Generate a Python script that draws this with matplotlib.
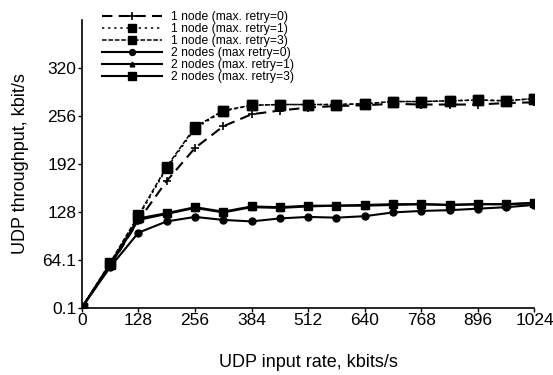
import matplotlib
matplotlib.use("Agg")
import matplotlib.pyplot as plt

plt.rcParams['font.family'] = ['Liberation Sans', 'DejaVu Sans']

# input rate, kbit/s
rate = [0, 64, 128, 192, 256, 320, 384, 448, 512, 576, 640, 704, 768, 832, 896, 960, 1024]

# UDP throughput, kbit/s
one_r0 = [0.1, 55, 116, 169, 213, 242, 258, 263, 267, 269, 270, 272, 271, 271, 271, 273, 274]
one_r1 = [0.1, 58, 121, 186, 239, 262, 270, 271, 271, 271, 272, 275, 275, 276, 277, 276, 279]
one_r3 = [0.1, 60, 123, 188, 241, 263, 270, 271, 271, 271, 272, 275, 275, 276, 277, 276, 279]
two_r0 = [0.1, 54, 100, 115, 121, 117, 115, 119, 121, 120, 122, 127, 129, 130, 132, 134, 137]
two_r1 = [0.1, 56, 117, 125, 133, 127, 134, 133, 135, 136, 136, 137, 138, 137, 138, 138, 139]
two_r3 = [0.1, 58, 119, 126, 134, 128, 135, 134, 136, 136, 137, 138, 138, 137, 138, 138, 140]

xticks = [0, 128, 256, 384, 512, 640, 768, 896, 1024]
yticks = [0.1, 64.1, 128, 192, 256, 320]
ytick_labels = ['0.1', '64.1', '128', '192', '256', '320']


def main():
    fig = plt.figure(figsize=(5.53, 3.75), dpi=100)
    ax = fig.add_axes([0.148, 0.18, 0.8185, 0.767])

    ax.plot(rate, one_r0, color='k', lw=1.5, ls=(0, (5, 3)), marker='+', ms=6, mew=1.2,
            label='1 node (max. retry=0)')
    ax.plot(rate, one_r1, color='k', lw=1.1, ls=(0, (1.5, 2.5)), marker='s', ms=7,
            label='1 node (max. retry=1)')
    ax.plot(rate, one_r3, color='k', lw=1.1, ls=(0, (3, 1.2)), marker='s', ms=7,
            label='1 node (max. retry=3)')
    ax.plot(rate, two_r0, color='k', lw=1.5, ls='-', marker='o', ms=5,
            label='2 nodes (max retry=0)')
    ax.plot(rate, two_r1, color='k', lw=1.5, ls='-', marker='^', ms=4,
            label='2 nodes (max. retry=1)')
    ax.plot(rate, two_r3, color='k', lw=1.5, ls='-', marker='s', ms=6,
            label='2 nodes (max. retry=3)')

    ax.set_xlim(0, 1024)
    ax.set_ylim(0.1, 384)
    ax.set_xticks(xticks)
    ax.set_yticks(yticks)
    ax.set_yticklabels(ytick_labels)
    ax.tick_params(labelsize=12.5, length=3, width=1, pad=1)
    ax.spines['top'].set_visible(False)
    ax.spines['right'].set_visible(False)
    ax.spines['left'].set_linewidth(1.2)
    ax.spines['bottom'].set_linewidth(1.2)

    ax.set_xlabel('UDP input rate, kbits/s', fontsize=13, labelpad=19)
    ax.set_ylabel('UDP throughput, kbit/s', fontsize=13, labelpad=10)

    fig.legend(loc='upper left', bbox_to_anchor=(0.184, 0.97), frameon=False,
               fontsize=8.7, handlelength=5, handletextpad=0.7, labelspacing=0.0,
               borderpad=0, borderaxespad=0, markerscale=0.85)

    fig.savefig('out.png', dpi=100)


if __name__ == '__main__':
    main()
